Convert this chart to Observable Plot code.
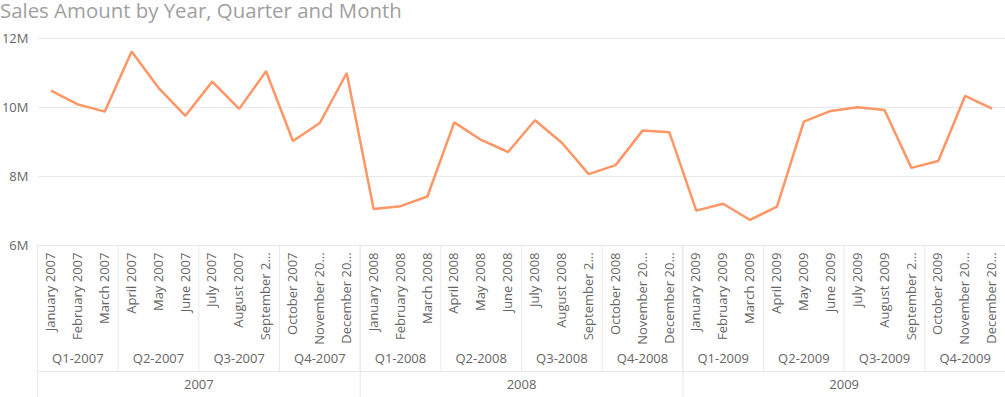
<!DOCTYPE html>
<html>
<head>
<meta charset="utf-8">
<script src="https://cdn.jsdelivr.net/npm/d3@7"></script>
<script src="https://cdn.jsdelivr.net/npm/@observablehq/plot@0.6"></script>
<style>
  body { margin: 0; background: #fff; font-family: 'Open Sans', sans-serif; }
  #wrap { position: relative; width: 1005px; height: 397px; overflow: hidden; }
  #title { position: absolute; left: 0; top: 0; font-size: 20.4px; line-height: 20px; color: #a0a0a0; white-space: nowrap; }
  #chart { position: absolute; left: 0; top: 0; }
</style>
</head>
<body>
<div id="wrap">
  <div id="chart"></div>
  <div id="title">Sales Amount by Year, Quarter and Month</div>
</div>
<script>
// ---- data ----
const years = [2007, 2008, 2009];
const quarterNames = ["Q1", "Q2", "Q3", "Q4"];
const monthLabels = [
  "January 2007", "February 2007", "March 2007", "April 2007", "May 2007", "June 2007",
  "July 2007", "August 2007", "September 2…", "October 2007", "November 20…", "December 20…",
  "January 2008", "February 2008", "March 2008", "April 2008", "May 2008", "June 2008",
  "July 2008", "August 2008", "September 2…", "October 2008", "November 20…", "December 20…",
  "January 2009", "February 2009", "March 2009", "April 2009", "May 2009", "June 2009",
  "July 2009", "August 2009", "September 2…", "October 2009", "November 20…", "December 20…"
];
// Sales amount (millions)
const sales2007 = [10.49, 10.09, 9.88, 11.62, 10.57, 9.76, 10.75, 9.96, 11.05, 9.03, 9.55, 11.00];
const sales2008 = [7.06, 7.14, 7.42, 9.57, 9.06, 8.71, 9.63, 8.98, 8.07, 8.33, 9.33, 9.28];
const sales2009 = [7.01, 7.21, 6.74, 7.13, 9.59, 9.90, 10.01, 9.93, 8.25, 8.45, 10.34, 9.97];
const yTicks = [6e6, 8e6, 10e6, 12e6];

// ---- derived tables ----
const sales = [...sales2007, ...sales2008, ...sales2009];
const months = monthLabels.map((label, i) => ({i, label, value: sales[i] * 1e6}));
const quarters = [];
years.forEach((yr, y) => quarterNames.forEach((q, k) => quarters.push({i: y * 12 + k * 3 + 1, label: `${q}-${yr}`})));
const yearRows = years.map((yr, y) => ({i: y * 12 + 5.5, label: String(yr)}));
const quarterBounds = d3.range(0, 13).map(k => k * 3 - 0.5);
const yearBounds = d3.range(0, 4).map(k => k * 12 - 0.5);

const font = "'Open Sans', sans-serif";
const textColor = "#666666";
const lineColor = "#e9e9e9";

const chart = Plot.plot({
  width: 1005,
  height: 397,
  marginTop: 38,
  marginBottom: 152,
  marginLeft: 37,
  marginRight: 0,
  style: {fontFamily: font, background: "#fff", overflow: "visible"},
  x: {type: "linear", domain: [-0.5, 35.5], axis: null},
  y: {domain: [6e6, 12e6], axis: null},
  marks: [
    Plot.ruleY(yTicks, {y: d => d, stroke: lineColor, strokeWidth: 1, insetLeft: 1}),
    Plot.ruleY([6e6], {y: d => d, dy: 126, stroke: lineColor, strokeWidth: 1}),
    Plot.ruleX(quarterBounds, {x: d => d, stroke: lineColor, strokeWidth: 1, insetTop: 207, insetBottom: -126}),
    Plot.ruleX(yearBounds, {x: d => d, stroke: lineColor, strokeWidth: 1, insetTop: 207, insetBottom: -152}),
    Plot.axisY(yTicks, {
      label: null, tickSize: 0, tickPadding: 9, fontSize: 13, fill: textColor,
      tickFormat: d => `${d / 1e6}M`
    }),
    Plot.line(months, {x: "i", y: "value", stroke: "#FE9666", strokeWidth: 2.5, strokeLinejoin: "miter", strokeLinecap: "butt"}),
    Plot.text(months, {
      x: "i", text: "label", frameAnchor: "bottom", dy: 7, rotate: -90,
      textAnchor: "end", lineAnchor: "middle", fontSize: 13, fill: textColor
    }),
    Plot.text(quarters, {
      x: "i", text: "label", frameAnchor: "bottom", dy: 113,
      textAnchor: "middle", lineAnchor: "middle", fontSize: 13, fill: textColor
    }),
    Plot.text(yearRows, {
      x: "i", text: "label", frameAnchor: "bottom", dy: 139,
      textAnchor: "middle", lineAnchor: "middle", fontSize: 13, fill: textColor
    })
  ]
});
document.getElementById("chart").appendChild(chart);
</script>
</body>
</html>
